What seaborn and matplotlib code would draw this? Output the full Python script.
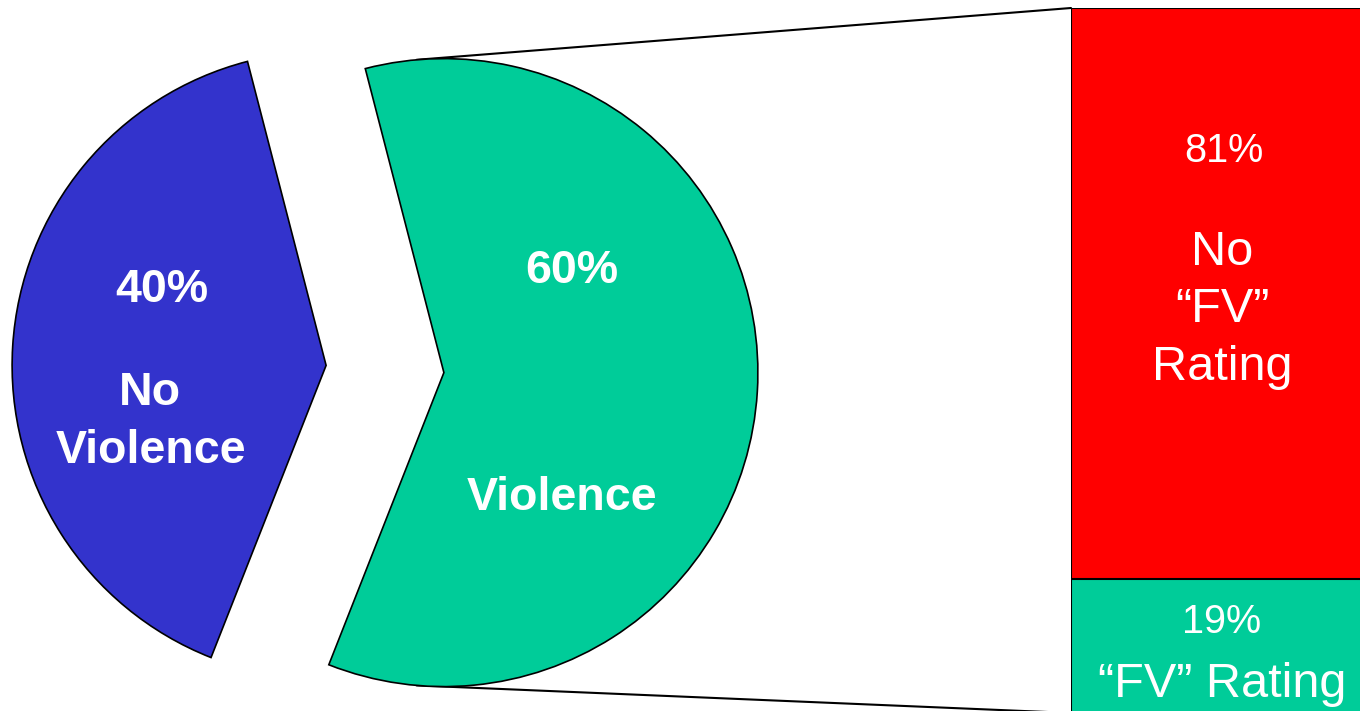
import matplotlib
matplotlib.use("Agg")
import matplotlib.pyplot as plt
from matplotlib.patches import ConnectionPatch
import seaborn as sns
import numpy as np

# pie: programs with / without violence
pie_pct = ["40%", "60%"]
pie_labels = ["No\nViolence", "Violence"]
pie_values = [40, 60]
pie_colors = ["#3333CC", "#00CC99"]

# bar: rating breakdown of the violent programs
bar_pct = ["81%", "19%"]
bar_labels = ["No\n\u201cFV\u201d\nRating", "\u201cFV\u201d Rating"]
bar_values = [81, 19]
bar_colors = ["#FF0000", "#00CC99"]

sns.set_theme(style="white")
plt.rcParams['font.family'] = ['Liberation Sans', 'DejaVu Sans']

W, H = 1360, 711
fig = plt.figure(figsize=(13.6, 7.11), dpi=100)
ax = fig.add_axes([0, 0, 1, 1])

# pie, both slices pulled apart
r = 314
wedges, _ = ax.pie(pie_values, colors=pie_colors, startangle=104.5, radius=r,
                   center=(385, H - 369), explode=[59, 59], frame=True,
                   wedgeprops=dict(edgecolor='black', linewidth=1.2))
ax.set_xlim(0, W)
ax.set_ylim(0, H)
ax.axis('off')

def txt(a, x, py, s, size, bold=False):
    # a = axes that owns the text, coordinates are pixels of the main axes
    a.text(x, H - py, s, color='white', fontsize=size, ha='center', va='baseline',
           fontweight='bold' if bold else 'normal', transform=ax.transData)

txt(ax, 162, 302, pie_pct[0], 33.5, True)
txt(ax, 150, 405, pie_labels[0].split("\n")[0], 33.5, True)
txt(ax, 151, 463, pie_labels[0].split("\n")[1], 33.5, True)
txt(ax, 572, 283, pie_pct[1], 33.5, True)
txt(ax, 562, 510, pie_labels[1], 33.5, True)

# stacked bar (overlay trick: total first, lower segment on top)
bax = fig.add_axes([1071 / W, (H - 713) / H, 310 / W, 705 / H])
sns.barplot(x=[0], y=[sum(bar_values)], color=bar_colors[0], saturation=1, width=1,
            edgecolor='black', linewidth=1.5, ax=bax)
sns.barplot(x=[0], y=[bar_values[1]], color=bar_colors[1], saturation=1, width=1,
            edgecolor='black', linewidth=1.5, ax=bax)
bax.set_xlim(-0.5, 0.5)
bax.set_ylim(0, sum(bar_values))
bax.axis('off')

txt(bax, 1224, 162, bar_pct[0], 28.5)
for i, line in enumerate(bar_labels[0].split("\n")):
    txt(bax, 1222, 265 + 57.5 * i, line, 35)
txt(bax, 1222, 633, bar_pct[1], 28.5)
txt(bax, 1222, 697, bar_labels[1], 35)

# connector lines from the violent slice to the bar
g = wedges[1]
cx, cy = g.center
for ang, yb in [(95, sum(bar_values)), (-95, 0)]:
    p = (cx + r * np.cos(np.radians(ang)), cy + r * np.sin(np.radians(ang)))
    con = ConnectionPatch(xyA=(-0.5, yb), coordsA=bax.transData, xyB=p,
                          coordsB=ax.transData, color='black', linewidth=1.5)
    con.set_zorder(0)
    fig.add_artist(con)

fig.savefig("out.png", dpi=100)
